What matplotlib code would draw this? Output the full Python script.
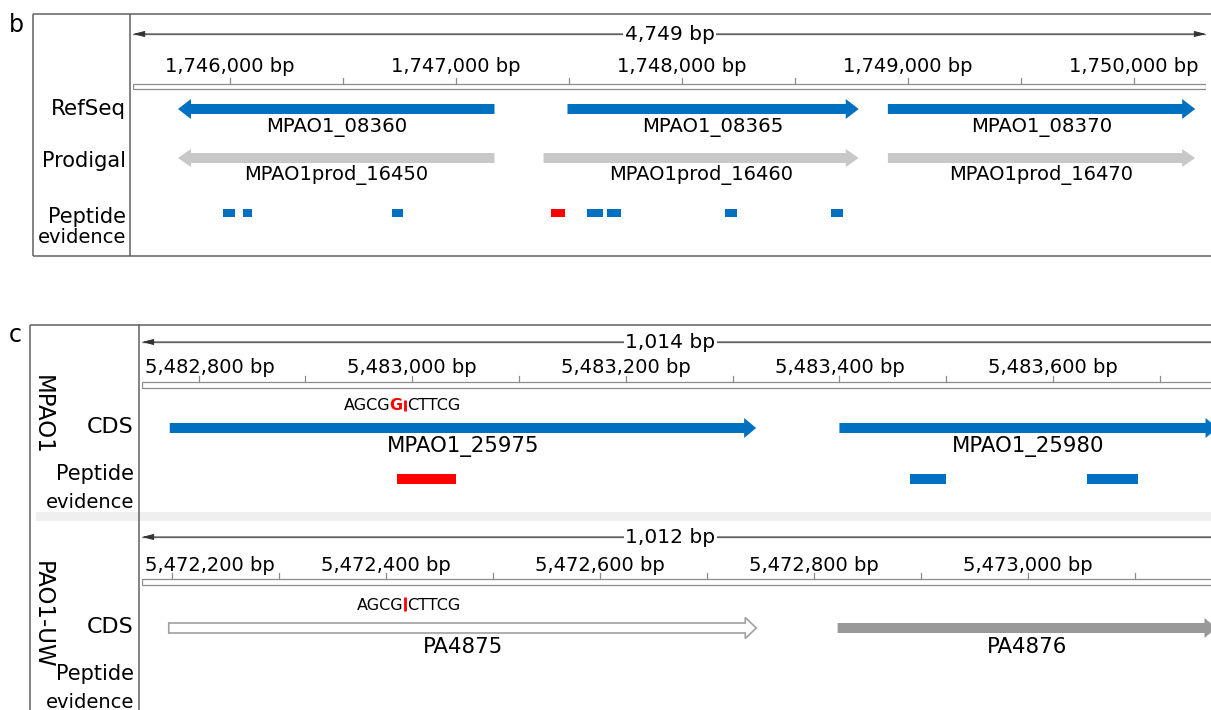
import matplotlib.pyplot as plt
from matplotlib.patches import Polygon, Rectangle

# ---- panel b: MPAO1 region around 1.748 Mbp ----
b_view_start = 1745570
b_view_len = 4749
b_ref_names = ['MPAO1_08360', 'MPAO1_08365', 'MPAO1_08370']
b_ref_start = [1745769, 1747493, 1748911]
b_ref_end = [1747170, 1748782, 1750271]
b_ref_strand = ['-', '+', '+']
b_prod_names = ['MPAO1prod_16450', 'MPAO1prod_16460', 'MPAO1prod_16470']
b_prod_start = [1745769, 1747387, 1748911]
b_prod_end = [1747170, 1748782, 1750271]
b_prod_strand = ['-', '+', '+']
b_pep_start = [1745969, 1746057, 1746718, 1747422, 1747581, 1747666, 1748189, 1748658]
b_pep_end = [1746022, 1746097, 1746766, 1747480, 1747648, 1747732, 1748242, 1748711]
b_pep_novel = [False, False, False, True, False, False, False, False]

# ---- panel c top: MPAO1 ----
c1_view_start = 5482747
c1_view_len = 1014
c1_names = ['MPAO1_25975', 'MPAO1_25980']
c1_start = [5482773, 5483400]
c1_end = [5483322, 5483754]
c1_pep_start = [5482986, 5483466, 5483632]
c1_pep_end = [5483041, 5483500, 5483680]
c1_pep_novel = [True, False, False]
c1_site = 5482993
c1_seq = ('AGCG', 'G', 'CTTCG')

# ---- panel c bottom: PAO1-UW ----
c2_view_start = 5472172
c2_view_len = 1012
c2_names = ['PA4875', 'PA4876']
c2_start = [5472197, 5472822]
c2_end = [5472746, 5473176]
c2_site = 5472418
c2_seq = ('AGCG', '', 'CTTCG')

BLUE = '#0070C0'
RED = '#FF0000'
LGRAY = '#C8C8C8'
MGRAY = '#999999'
FRAME = '#606060'
RULE = '#8C8C8C'

W, H = 1211, 710
plt.rcParams['font.family'] = ['DejaVu Sans']
fig = plt.figure(figsize=(W / 100, H / 100), dpi=100)


def px_axes(x0, y0, x1, y1):
    ax = fig.add_axes([x0 / W, 1 - y1 / H, (x1 - x0) / W, (y1 - y0) / H])
    ax.set_axis_off()
    ax.set_ylim(y1, y0)
    return ax


# frames
frm = px_axes(0, 0, W, H)
frm.set_xlim(0, W)
for xs, ys in [([33, 1211], [14, 14]), ([33, 1211], [256, 256]), ([33, 33], [14, 256]),
               ([130, 130], [14, 256]), ([30, 1211], [325, 325]), ([30, 30], [325, 710])]:
    frm.plot(xs, ys, color=FRAME, lw=1.1, solid_capstyle='butt')
frm.add_patch(Rectangle((36, 512), 1211 - 36, 9, fc='#EFEFEF', ec='none'))
frm.plot([139, 139], [325, 710], color=FRAME, lw=1.1)
frm.text(9, 32, 'b', fontsize=17, ha='left', va='baseline')
frm.text(9, 342, 'c', fontsize=17, ha='left', va='baseline')
frm.text(42, 415, 'MPAO1', fontsize=16.5, rotation=270, ha='center', va='center')
frm.text(42, 615, 'PAO1-UW', fontsize=16.5, rotation=270, ha='center', va='center')

label_size = {'RefSeq': 15.5, 'Prodigal': 15, 'Peptide': 15, 'evidence': 14, 'CDS': 16}
for txt, x, y in [('RefSeq', 126, 115), ('Prodigal', 126, 167), ('Peptide', 126, 223),
                  ('evidence', 126, 243), ('CDS', 134, 433), ('Peptide', 134, 480),
                  ('evidence', 134, 508), ('CDS', 134, 633), ('Peptide', 134, 680),
                  ('evidence', 134, 708)]:
    frm.text(x, y, txt, fontsize=label_size[txt], ha='right', va='baseline')


def ruler(ax, start, length, step, lab_step, y_line, y_len, y_lab, bar0, bar1, frac=0.5):
    end = start + length
    ax.annotate('', xy=(start, y_line), xytext=(end, y_line),
                arrowprops=dict(arrowstyle='<|-|>,head_length=0.7,head_width=0.18',
                                color='#333333', lw=0.7, shrinkA=0, shrinkB=0))
    ax.plot([start, end], [y_line, y_line], color=RULE, lw=1.0)
    ax.text(start + frac * length, y_len, f'{length:,} bp', fontsize=14.5, ha='center',
            va='baseline', bbox=dict(fc='white', ec='none', pad=1))
    ax.add_patch(Rectangle((start, bar0), length, bar1 - bar0, fc='white', ec=RULE, lw=0.9))
    first = -(-start // step) * step
    labels = []
    for pos in range(first, end, step):
        ax.plot([pos, pos], [bar0 - 6, bar0], color=RULE, lw=0.9)
        if pos % lab_step == 0:
            labels.append(ax.text(pos, y_lab, f'{pos:,} bp', fontsize=14,
                                  ha='center', va='baseline'))
    return labels


def gene(ax, s, e, strand, y, fc, ec='none', body=10, head=20, hlen_px=13, lw=0):
    bpp = (ax.get_xlim()[1] - ax.get_xlim()[0]) / (ax.bbox.width)
    hl = hlen_px * bpp
    b2, h2 = body / 2, head / 2
    if strand == '+':
        n = max(s, e - hl)
        pts = [(s, y - b2), (n, y - b2), (n, y - h2), (e, y), (n, y + h2), (n, y + b2), (s, y + b2)]
    else:
        n = min(e, s + hl)
        pts = [(e, y - b2), (n, y - b2), (n, y - h2), (s, y), (n, y + h2), (n, y + b2), (e, y + b2)]
    ax.add_patch(Polygon(pts, closed=True, fc=fc, ec=ec, lw=lw, joinstyle='miter'))


def fix_first(ax, labels):
    r = fig.canvas.get_renderer()
    x_left = ax.bbox.x0
    for t in labels:
        bb = t.get_window_extent(r)
        if bb.x0 < x_left:
            bpp = (ax.get_xlim()[1] - ax.get_xlim()[0]) / ax.bbox.width
            t.set_x(ax.get_xlim()[0] + 3 * bpp)
            t.set_ha('left')


def seq_marker(ax, site, seq, y_base, bar0, bar1):
    left, red, right = seq
    ax.plot([site, site], [bar0, bar1], color=RED, lw=2.0, solid_capstyle='butt')
    if red:
        g = ax.annotate(red, xy=(site, y_base), xytext=(-1.5, 0), textcoords='offset points',
                        ha='right', va='baseline', color=RED, fontweight='bold', fontsize=11.5)
        ax.annotate(left, xy=(0, y_base), xycoords=(g, 'data'), xytext=(1.0, 0),
                    textcoords='offset points', ha='right', va='baseline', fontsize=11.5)
    else:
        ax.annotate(left, xy=(site, y_base), xytext=(-1.5, 0), textcoords='offset points',
                    ha='right', va='baseline', fontsize=11.5)
    ax.annotate(right, xy=(site, y_base), xytext=(1.5, 0), textcoords='offset points',
                ha='left', va='baseline', fontsize=11.5)


# ---- panel b ----
axb = px_axes(133, 14, 1206, 256)
axb.set_xlim(b_view_start, b_view_start + b_view_len)
ruler(axb, b_view_start, b_view_len, 500, 1000, 34, 39.5, 72, 84, 89)
for n, s, e, st in zip(b_ref_names, b_ref_start, b_ref_end, b_ref_strand):
    gene(axb, s, e, st, 109, BLUE)
    axb.text((s + e) / 2, 132, n, fontsize=14.2, ha='center', va='baseline')
for n, s, e, st in zip(b_prod_names, b_prod_start, b_prod_end, b_prod_strand):
    gene(axb, s, e, st, 158, LGRAY, head=18)
    axb.text((s + e) / 2, 180, n, fontsize=14, ha='center', va='baseline')
for s, e, nov in zip(b_pep_start, b_pep_end, b_pep_novel):
    axb.add_patch(Rectangle((s, 209), e - s, 8, fc=RED if nov else BLUE, ec='none'))

# ---- panel c top ----
axc1 = px_axes(142, 325, 1225, 512)
axc1.set_xlim(c1_view_start, c1_view_start + c1_view_len)
lab1 = ruler(axc1, c1_view_start, c1_view_len, 100, 200, 342, 348, 373, 382, 388, frac=0.488)
for n, s, e in zip(c1_names, c1_start, c1_end):
    gene(axc1, s, e, '+', 428, BLUE, hlen_px=12)
    axc1.text((s + e) / 2, 452, n, fontsize=15.3, ha='center', va='baseline')
for s, e, nov in zip(c1_pep_start, c1_pep_end, c1_pep_novel):
    axc1.add_patch(Rectangle((s, 474), e - s, 10, fc=RED if nov else BLUE, ec='none'))
seq_marker(axc1, c1_site, c1_seq, 410.5, 400, 411)

# ---- panel c bottom ----
axc2 = px_axes(142, 521, 1225, 710)
axc2.set_xlim(c2_view_start, c2_view_start + c2_view_len)
lab2 = ruler(axc2, c2_view_start, c2_view_len, 100, 200, 537, 543, 571, 579, 585, frac=0.488)
gene(axc2, c2_start[0], c2_end[0], '+', 628, 'white', ec='#A0A0A0', lw=1.2, head=21, hlen_px=11)
gene(axc2, c2_start[1], c2_end[1], '+', 628, MGRAY, hlen_px=12)
for n, s, e in zip(c2_names, c2_start, c2_end):
    axc2.text((s + e) / 2, 653, n, fontsize=15.3, ha='center', va='baseline')
seq_marker(axc2, c2_site, c2_seq, 610, 597, 611)

fix_first(axc1, lab1)
fix_first(axc2, lab2)

fig.savefig('out.png', dpi=100)
